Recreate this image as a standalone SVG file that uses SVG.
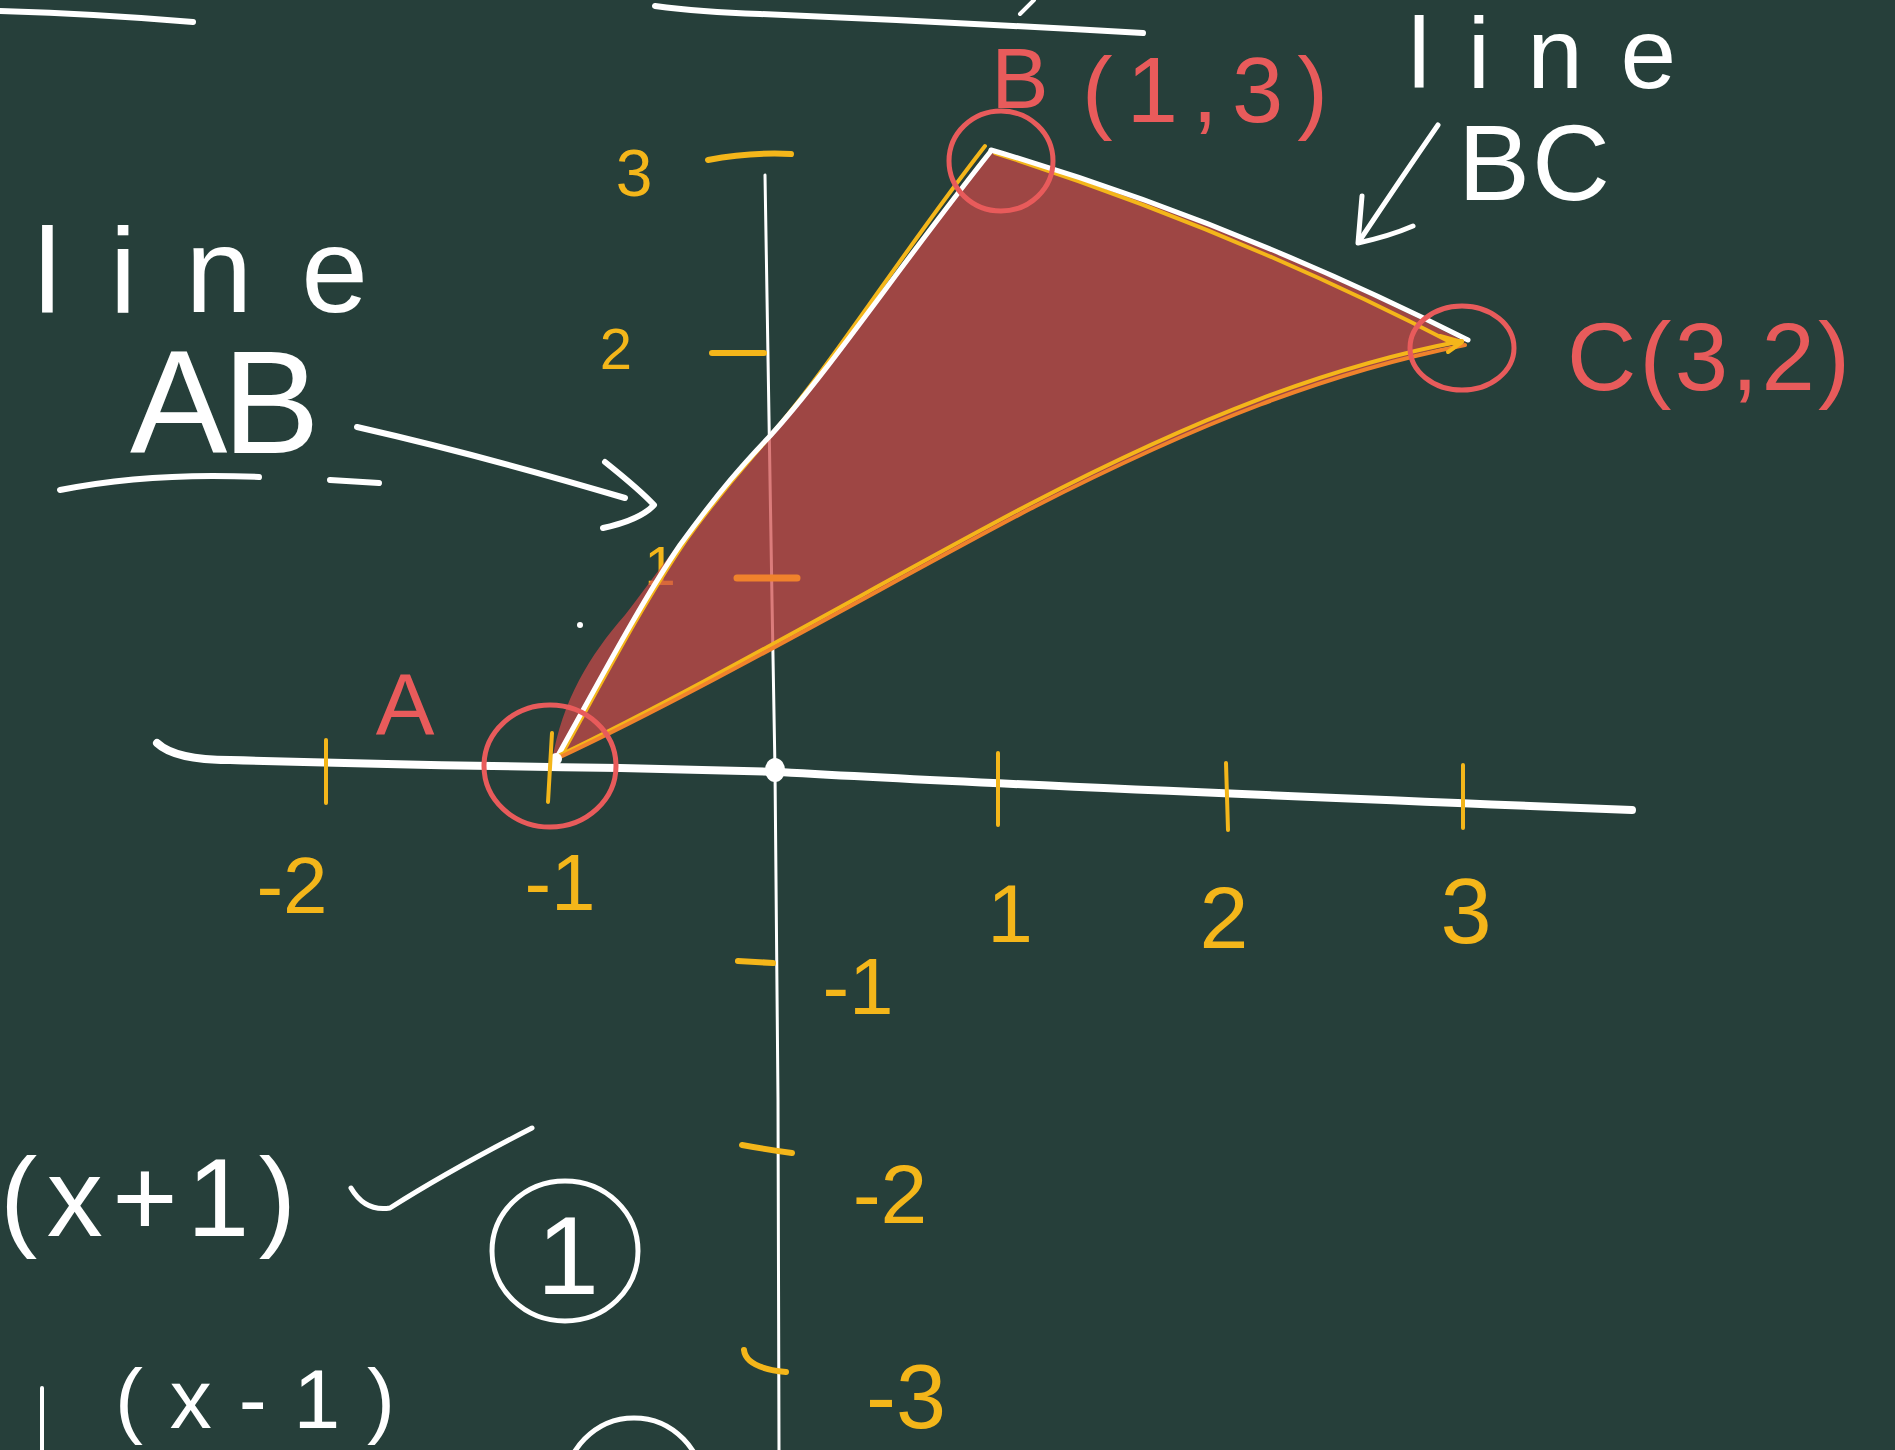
<svg xmlns="http://www.w3.org/2000/svg" width="1895" height="1450" viewBox="0 0 1895 1450">
<style>
.w{fill:none;stroke:#ffffff;stroke-linecap:round;stroke-linejoin:round}
.y{fill:none;stroke:#f4b61a;stroke-linecap:round;stroke-linejoin:round}
.r{fill:none;stroke:#e85b5b;stroke-linecap:round;stroke-linejoin:round;stroke-width:5}
.o{fill:none;stroke:#f0822c;stroke-linecap:round;stroke-linejoin:round}
.tw{font-family:"Liberation Sans",Arial,sans-serif;fill:#ffffff}
.ty{font-family:"Liberation Sans",Arial,sans-serif;fill:#f4b61a}
.tr{font-family:"Liberation Sans",Arial,sans-serif;fill:#e85b5b}
</style>
<rect x="0" y="0" width="1895" height="1450" fill="#263f3a"/>

<g id="top-strokes">
<path class="w" stroke-width="6" d="M0,11 Q100,14 193,22"/>
<path class="w" stroke-width="6" d="M655,6 Q700,12 760,14 Q950,22 1143,33"/>
<path class="w" stroke-width="4" d="M1020,14 L1034,0"/>
</g>

<g id="axes">
<path class="w" stroke-width="3" d="M765,175 L772,600 L775,770 L778,1100 L779,1450"/>
<path class="w" stroke-width="8" d="M157,743 Q175,760 230,760 Q400,765 620,768 Q700,770 780,772 Q1000,785 1632,810"/>
<ellipse cx="775" cy="770" rx="10" ry="12" fill="#ffffff"/>
</g>

<g id="y-labels">
<text class="ty" x="634" y="196" font-size="66" text-anchor="middle">3</text>
<text class="ty" x="616" y="369" font-size="58" text-anchor="middle">2</text>
<text class="ty" x="660" y="585" font-size="56" text-anchor="middle">1</text>
<text class="ty" x="858" y="1014" font-size="80" text-anchor="middle">-1</text>
<text class="ty" x="890" y="1223" font-size="84" text-anchor="middle">-2</text>
<text class="ty" x="906" y="1428" font-size="90" text-anchor="middle">-3</text>
</g>

<g id="triangle">
<path d="M552,762 C562,700 590,655 625,615 C660,570 700,510 770,436 C830,370 900,265 991,151 Q1230,222 1466,342 C1330,372 1200,422 1030,510 C900,578 700,692 552,762 Z" fill="#cd4a48" fill-opacity="0.72"/>
<path class="y" stroke-width="4" d="M562,754 C605,676 645,600 686,540 C725,486 750,460 765,442 C830,368 895,262 985,146"/>
<path class="w" stroke-width="5" d="M556,759 C600,680 640,604 680,545 C720,490 745,462 770,436 C830,370 900,265 991,151"/>
<path class="y" stroke-width="4" d="M995,153 Q1235,230 1458,346"/>
<path class="w" stroke-width="5" d="M991,150 Q1230,220 1468,340"/>
<path class="y" stroke-width="4" d="M1462,341 C1330,366 1200,416 1030,504 C900,572 700,688 560,755"/>
<path class="o" stroke-width="4" d="M1465,345 C1330,372 1200,422 1030,509 C900,577 700,692 556,759"/>
<path class="y" stroke-width="4" d="M1440,336 L1462,342 L1448,352"/>
<circle cx="556" cy="759" r="6" fill="#ffffff"/>
</g>

<g id="x-ticks">
<path class="y" stroke-width="4" d="M326,740 L326,803"/>
<path class="y" stroke-width="4" d="M552,733 L548,802"/>
<path class="y" stroke-width="4" d="M998,753 L998,825"/>
<path class="y" stroke-width="4" d="M1226,763 L1228,830"/>
<path class="y" stroke-width="4" d="M1463,765 L1463,828"/>
</g>

<g id="x-labels">
<text class="ty" x="292" y="913" font-size="80" text-anchor="middle">-2</text>
<text class="ty" x="560" y="910" font-size="80" text-anchor="middle">-1</text>
<text class="ty" x="1010" y="942" font-size="82" text-anchor="middle">1</text>
<text class="ty" x="1224" y="948" font-size="88" text-anchor="middle">2</text>
<text class="ty" x="1466" y="943" font-size="92" text-anchor="middle">3</text>
</g>

<g id="y-ticks">
<path class="y" stroke-width="6" d="M708,160 Q750,152 791,154"/>
<path class="y" stroke-width="6" d="M712,353 L764,353"/>
<path class="o" stroke-width="7" d="M737,578 L797,578"/>
<path class="y" stroke-width="6" d="M738,961 L773,963"/>
<path class="y" stroke-width="6" d="M742,1145 Q770,1150 792,1153"/>
<path class="y" stroke-width="6" d="M744,1350 Q746,1368 786,1372"/>
</g>

<g id="point-A">
<ellipse class="r" cx="550" cy="766" rx="66" ry="61"/>
<text class="tr" x="405" y="735" font-size="88" text-anchor="middle">A</text>
</g>

<g id="point-B">
<ellipse class="r" cx="1001" cy="161" rx="52" ry="50"/>
<text class="tr" x="1020" y="108" font-size="86" text-anchor="middle">B</text>
<text class="tr" x="1082" y="122" font-size="92" textLength="246" lengthAdjust="spacing">(1,3)</text>
</g>

<g id="point-C">
<ellipse class="r" cx="1462" cy="348" rx="52" ry="42"/>
<text class="tr" x="1567" y="390" font-size="96" textLength="283" lengthAdjust="spacing">C(3,2)</text>
</g>

<g id="label-line-AB">
<text class="tw" x="34" y="312" font-size="120" textLength="334" lengthAdjust="spacing">line</text>
<text class="tw" x="130" y="453" font-size="146" textLength="190" lengthAdjust="spacing">AB</text>
<path class="w" stroke-width="6" d="M60,490 Q150,472 259,477"/>
<path class="w" stroke-width="6" d="M330,480 L379,483"/>
</g>

<g id="label-line-BC">
<text class="tw" x="1408" y="88" font-size="100" textLength="268" lengthAdjust="spacing">line</text>
<text class="tw" x="1458" y="200" font-size="108" textLength="152" lengthAdjust="spacing">BC</text>
</g>

<g id="connectors">
<path class="w" stroke-width="6" d="M357,427 Q480,455 625,498"/>
<path class="w" stroke-width="6" d="M605,462 Q640,490 654,505 Q640,520 603,528"/>
<path class="w" stroke-width="5" d="M1438,125 Q1400,180 1360,240"/>
<path class="w" stroke-width="5" d="M1362,196 L1358,243 Q1390,236 1413,226"/>
</g>

<g id="equations">
<text class="tw" x="0" y="1236" font-size="112" textLength="296" lengthAdjust="spacing">(x+1)</text>
<path class="w" stroke-width="5" d="M351,1188 Q365,1212 390,1208 Q450,1170 532,1128"/>
<ellipse class="w" stroke-width="5" cx="565" cy="1251" rx="73" ry="70"/>
<text class="tw" x="568" y="1294" font-size="112" text-anchor="middle">1</text>
<path class="w" stroke-width="4" d="M42,1388 L42,1450"/>
<text class="tw" x="115" y="1428" font-size="84" textLength="280" lengthAdjust="spacing">(x-1)</text>
<ellipse class="w" stroke-width="5" cx="634" cy="1490" rx="70" ry="72"/>
</g>
<circle cx="580" cy="625" r="3" fill="#ffffff"/>
</svg>
